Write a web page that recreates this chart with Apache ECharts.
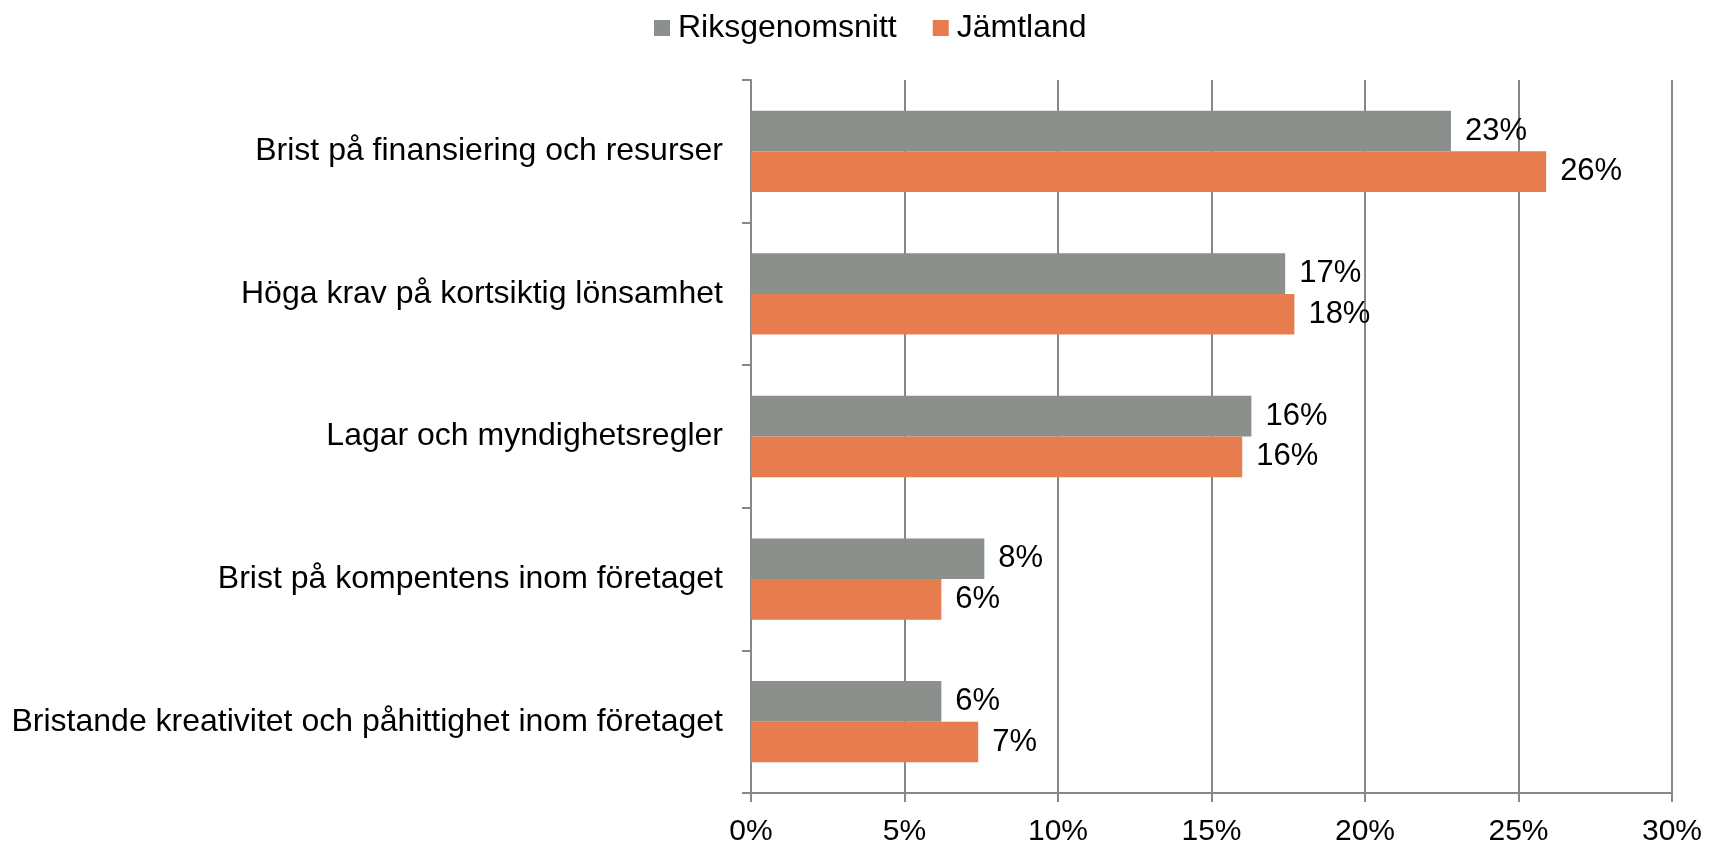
<!DOCTYPE html>
<html>
    <head>
        <meta charset="utf-8">
        <title>Hinder för innovation</title>
        <script src="https://cdn.jsdelivr.net/npm/echarts@6/dist/echarts.min.js"></script>
        <style>
            html, body { margin: 0; padding: 0; background: #fff; }
            #chart1 { width: 1721px; height: 846px; }
        </style>
    </head>
    <body>
        <div id="chart1"></div>
        <script type="text/javascript">
            // kategorier (uppifrån och ned)
            var categories = [
                'Brist på finansiering och resurser',
                'Höga krav på kortsiktig lönsamhet',
                'Lagar och myndighetsregler',
                'Brist på kompentens inom företaget',
                'Bristande kreativitet och påhittighet inom företaget'
            ];
            var seriesNames = ['Riksgenomsnitt', 'Jämtland'];
            // andel i procent
            var riksgenomsnitt = [22.8, 17.4, 16.3, 7.6, 6.2];
            var jamtland = [25.9, 17.7, 16.0, 6.2, 7.4];
            var xTicks = [0, 5, 10, 15, 20, 25, 30];

            var font = '"Liberation Sans", Arial, sans-serif';
            var axisGrey = '#878787';

            var myChart = echarts.init(document.getElementById('chart1'));

            function labelCfg() {
                return {
                    show: true,
                    position: 'right',
                    distance: 14,
                    color: '#000',
                    fontFamily: font,
                    fontSize: 31,
                    formatter: function (p) { return Math.round(p.value) + '%'; }
                };
            }

            myChart.setOption({
                animation: false,
                textStyle: { fontFamily: font },
                legend: {
                    data: seriesNames,
                    left: 649,
                    top: 7,
                    itemWidth: 16,
                    itemHeight: 16,
                    itemGap: 36,
                    icon: 'rect',
                    textStyle: {
                        fontSize: 32,
                        color: '#000',
                        fontFamily: font,
                        padding: [0, 0, 0, 3]
                    }
                },
                grid: {
                    left: 751,
                    right: 49,
                    top: 80,
                    bottom: 53,
                    containLabel: false,
                    outerBoundsMode: 'none'
                },
                xAxis: {
                    type: 'value',
                    min: xTicks[0],
                    max: xTicks[xTicks.length - 1],
                    interval: 5,
                    axisLine: { show: true, lineStyle: { color: axisGrey, width: 2 } },
                    axisTick: { show: true, length: 9, lineStyle: { color: axisGrey, width: 2 } },
                    splitLine: { show: true, lineStyle: { color: axisGrey, width: 2 } },
                    axisLabel: {
                        color: '#000',
                        fontSize: 30,
                        fontFamily: font,
                        margin: 24,
                        formatter: '{value}%'
                    }
                },
                yAxis: {
                    type: 'category',
                    data: categories,
                    inverse: true,
                    axisLine: { show: true, lineStyle: { color: axisGrey, width: 2 } },
                    axisTick: { show: true, length: 9, alignWithLabel: false, lineStyle: { color: axisGrey, width: 2 } },
                    axisLabel: {
                        color: '#000',
                        fontSize: 32,
                        fontFamily: font,
                        margin: 28
                    }
                },
                series: [{
                    name: seriesNames[0],
                    type: 'bar',
                    data: riksgenomsnitt,
                    barGap: '0%',
                    barCategoryGap: '43%',
                    itemStyle: { color: '#8B908D' },
                    label: labelCfg()
                }, {
                    name: seriesNames[1],
                    type: 'bar',
                    data: jamtland,
                    barGap: '0%',
                    barCategoryGap: '43%',
                    itemStyle: { color: '#E77C4F' },
                    label: labelCfg()
                }]
            });
        </script>
    </body>
</html>
